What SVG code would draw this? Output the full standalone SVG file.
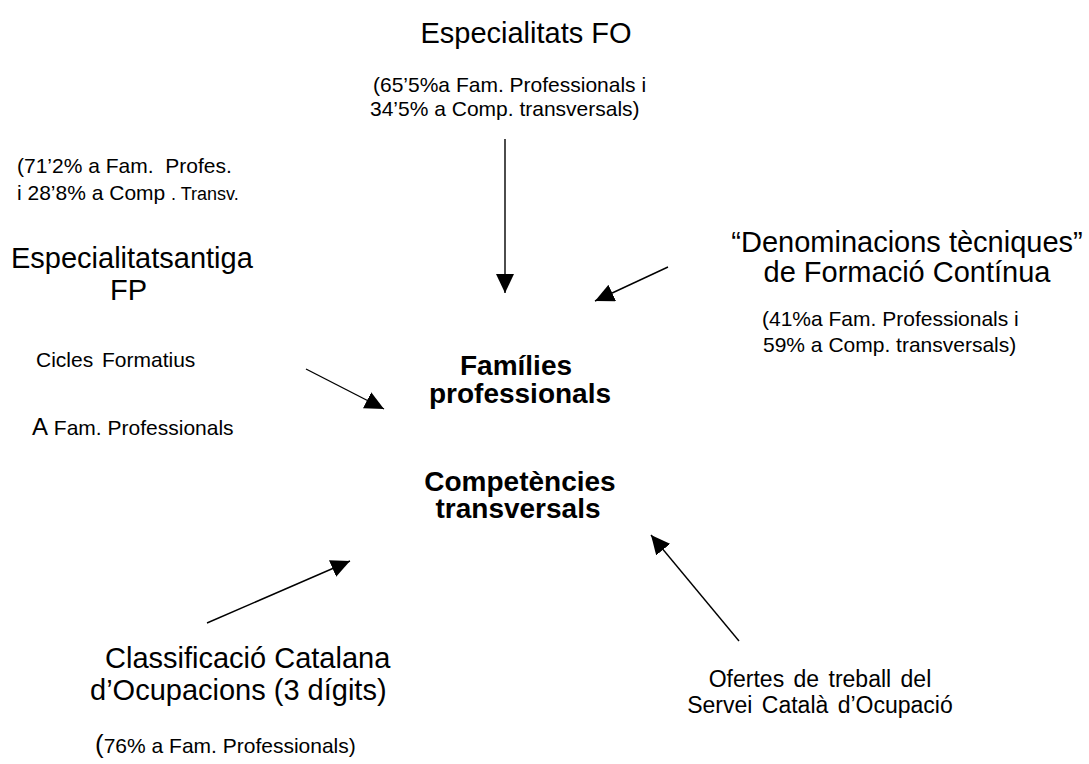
<svg xmlns="http://www.w3.org/2000/svg" width="1089" height="764" viewBox="0 0 1089 764">
<defs>
<style>
text{font-family:"Liberation Sans",Arial,sans-serif;fill:#000;white-space:pre}
.big{font-size:29px}
.sm{font-size:21px}
.mid{text-anchor:middle}
.bold{font-weight:bold;font-size:28px;text-anchor:middle}
.nar{font-family:"Liberation Sans Narrow","Liberation Sans",sans-serif;font-size:18px;font-stretch:condensed}
.conn line{stroke:#000;stroke-width:1.4;marker-end:url(#ah)}
</style>
<marker id="ah" markerUnits="userSpaceOnUse" markerWidth="20" markerHeight="18" refX="19" refY="9" orient="auto" viewBox="0 0 20 18">
<path d="M0,0 L19,9 L0,18 z" fill="#000"/>
</marker>
</defs>
<rect width="1089" height="764" fill="#fff"/>
<g id="fo">
<text class="big mid" x="526" y="43">Especialitats FO</text>
<text class="sm" x="373" y="92">(65’5%a Fam. Professionals i</text>
<text class="sm" x="370" y="116">34’5% a Comp. transversals)</text>
</g>
<g id="fp">
<text class="sm" x="17" y="173">(71’2% a Fam.  Profes.</text>
<text class="sm" x="17" y="200">i 28’8% a Comp <tspan class="nar">. Transv.</tspan></text>
<text class="big" x="11" y="268">Especialitatsantiga</text>
<text class="big" x="110" y="300">FP</text>
<text class="sm" x="36" y="367" word-spacing="3">Cicles Formatius</text>
<text class="sm" x="32" y="435"><tspan font-size="24">A</tspan> Fam. Professionals</text>
</g>
<g id="fc">
<text class="big mid" x="907" y="252">“Denominacions tècniques”</text>
<text class="big mid" x="907" y="282">de Formació Contínua</text>
<text class="sm" x="762" y="326">(41%a Fam. Professionals i</text>
<text class="sm" x="763" y="352">59% a Comp. transversals)</text>
</g>
<g id="centre">
<text class="bold" x="516" y="375">Famílies</text>
<text class="bold" x="520" y="403">professionals</text>
<text class="bold" x="520" y="491">Competències</text>
<text class="bold" x="518" y="518">transversals</text>
</g>
<g id="cco">
<text class="big" x="105" y="668" font-size="28.5">Classificació Catalana</text>
<text class="big" x="90" y="700" font-size="28.5">d’Ocupacions (3 dígits)</text>
<text class="sm" x="95" y="753"><tspan font-size="26">(</tspan>76% a Fam. Professionals)</text>
</g>
<g id="soc">
<text class="mid" x="820" y="687" font-size="23" word-spacing="3">Ofertes de treball del</text>
<text class="mid" x="820" y="713" font-size="23" word-spacing="3">Servei Català d’Ocupació</text>
</g>
<g id="connectors" class="conn">
<line x1="505" y1="139" x2="505" y2="293"/>
<line x1="668" y1="267" x2="595" y2="301"/>
<line x1="306" y1="369" x2="384" y2="409"/>
<line x1="207" y1="623" x2="350" y2="561"/>
<line x1="739" y1="641" x2="651" y2="535"/>
</g>
</svg>
